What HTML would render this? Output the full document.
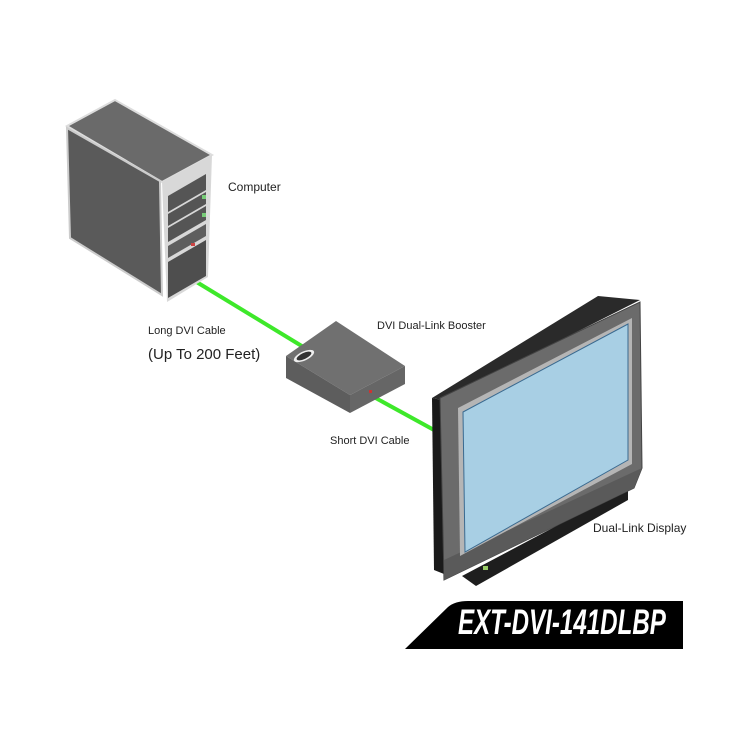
<!DOCTYPE html>
<html><head><style>
html,body{margin:0;padding:0;background:#fff;}
svg{display:block}
text{font-family:"Liberation Sans",sans-serif;fill:#222;}
</style></head><body>
<svg width="750" height="750" viewBox="0 0 750 750" xmlns="http://www.w3.org/2000/svg">
<rect width="750" height="750" fill="#fff"/>
<!-- cables -->
<line x1="190" y1="278" x2="305" y2="348" stroke="#3ee82a" stroke-width="4"/>
<line x1="372" y1="396" x2="434" y2="430" stroke="#3ee82a" stroke-width="4"/>
<!-- computer -->
<polygon points="67,126 115,100 212,155 162,182" fill="#6a6a6a" stroke="#ddd" stroke-width="2"/>
<polygon points="67,128 160,181 162,295 70,238" fill="#5a5a5a" stroke="#ccc" stroke-width="2"/>
<polygon points="162,182 212,155 208,277 167,302" fill="#d8d8d8"/>
<polygon points="168,196 206,174 206,190 168,212" fill="#555"/>
<polygon points="168,214 206,192 206,204 168,226" fill="#555"/>
<polygon points="168,228 206,206 206,220 168,242" fill="#555"/>
<polygon points="168,246 206,224 206,236 168,258" fill="#5e5e5e"/>
<polygon points="168,262 206,240 206,276 168,298" fill="#4e4e4e"/>
<rect x="202" y="195" width="4" height="4" fill="#7c7"/>
<rect x="202" y="213" width="4" height="4" fill="#7c7"/>
<rect x="191" y="243" width="4" height="3" fill="#c44"/>
<!-- booster -->
<polygon points="286,356 336,321 405,366 350,395" fill="#707070"/>
<polygon points="286,356 350,395 350,413 286,378" fill="#5d5d5d"/>
<polygon points="350,395 405,366 405,384 350,413" fill="#666"/>
<ellipse cx="304" cy="356" rx="11" ry="4.5" fill="#eee" transform="rotate(-25 304 356)"/>
<ellipse cx="304" cy="356" rx="8" ry="3" fill="#333" transform="rotate(-25 304 356)"/>
<rect x="369" y="390" width="3" height="3" fill="#c33"/>
<!-- monitor -->
<polygon points="432,398 598,296 640,300 442,400" fill="#2a2a2a"/>
<polygon points="432,398 442,400 444,574 434,570" fill="#1a1a1a"/>
<polygon points="462,576 628,488 628,500 476,586" fill="#1e1e1e"/>
<polygon points="440,398 640,302 642,468 634,488 444,580" fill="#6b6b6b" stroke="#444" stroke-width="1"/>
<polygon points="444,560 642,468 634,488 444,580" fill="#5a5a5a"/>
<polygon points="458,408 632,318 632,464 460,556" fill="#b5b5b5"/>
<polygon points="463,412 628,324 628,460 465,552" fill="#a8cfe4" stroke="#3a6a90" stroke-width="1"/>
<rect x="483" y="566" width="5" height="4" fill="#9c6"/>
<!-- label bar -->
<path d="M405,649 L448,607 Q455,601 468,601 L683,601 L683,649 Z" fill="#000"/>
<text x="458" y="634" transform="translate(458 0) scale(0.69 1) translate(-458 0)" style="font-size:35px;font-weight:bold;font-style:italic;fill:#fff;">EXT-DVI-141DLBP</text>
<!-- labels -->
<text x="228" y="191" font-size="12">Computer</text>
<text x="148" y="334" font-size="11">Long DVI Cable</text>
<text x="148" y="359" font-size="15">(Up To 200 Feet)</text>
<text x="377" y="329" font-size="11">DVI Dual-Link Booster</text>
<text x="330" y="444" font-size="11">Short DVI Cable</text>
<text x="593" y="532" font-size="12">Dual-Link Display</text>
</svg>
</body></html>
